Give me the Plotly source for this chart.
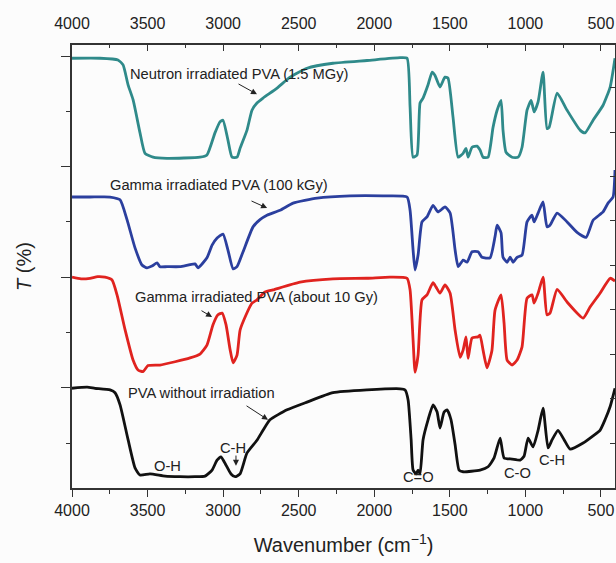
import plotly.graph_objects as go

# ---- data (wavenumber in cm^-1, offset transmittance in arbitrary units) ----
wn_black = [4000, 3900, 3848, 3748, 3715, 3682, 3629, 3583, 3550, 3484, 3384, 3285, 3186, 3120, 3073, 3040, 3014, 2981, 2948, 2921,
            2888, 2842, 2776, 2736, 2690, 2577, 2445, 2273, 2048, 1829, 1796, 1776, 1756, 1743, 1723, 1710, 1697, 1677, 1644, 1611,
            1584, 1565, 1538, 1518, 1492, 1465, 1439, 1412, 1300, 1247, 1207, 1167, 1141, 1088, 1035, 1009, 982, 949, 916, 883,
            850, 823, 784, 744, 704, 618, 552, 506, 473, 439, 407]
t_black = [19.9, 20.1, 19.9, 19.6, 19.1, 16.9, 10.6, 5.5, 4.2, 4.4, 4.0, 3.9, 3.9, 4.0, 5.1, 6.9, 7.5, 6.0, 4.4, 3.9,
           4.4, 8.2, 10.5, 12.3, 14.2, 16.0, 17.4, 19.1, 19.6, 19.8, 19.6, 17.8, 10.6, 5.1, 4.4, 5.1, 4.4, 10.6, 14.2, 16.9,
           15.6, 12.7, 15.6, 16.0, 14.2, 9.7, 5.1, 4.8, 5.1, 5.7, 7.3, 10.9, 7.3, 7.1, 6.9, 7.6, 10.9, 9.3, 12.3, 16.3,
           9.1, 10.6, 12.3, 10.6, 8.9, 10.0, 11.3, 12.3, 14.2, 16.6, 19.9]

wn_red = [4000, 3940, 3881, 3830, 3782, 3735, 3702, 3649, 3596, 3563, 3530, 3497, 3418, 3318, 3219, 3153, 3107, 3067, 3034, 3007,
          2981, 2954, 2934, 2908, 2888, 2848, 2809, 2776, 2723, 2670, 2491, 2273, 2048, 1896, 1783, 1763, 1743, 1730, 1710, 1684,
          1651, 1611, 1591, 1565, 1532, 1498, 1465, 1432, 1412, 1393, 1379, 1353, 1313, 1300, 1280, 1254, 1221, 1201, 1161, 1141,
          1121, 1088, 1055, 1022, 989, 956, 942, 916, 883, 857, 837, 790, 724, 618, 572, 506, 439, 407]
t_red = [40.0, 39.7, 39.8, 40.1, 40.0, 39.5, 36.8, 30.5, 25.0, 23.2, 22.9, 24.0, 24.1, 24.7, 25.4, 26.1, 27.7, 31.4, 33.2, 33.5,
         31.4, 26.9, 24.5, 25.9, 30.4, 33.2, 35.3, 35.9, 37.3, 37.7, 39.1, 39.7, 39.8, 40.0, 39.8, 37.7, 28.6, 22.8, 25.9, 35.9,
         36.8, 39.0, 38.2, 37.1, 38.6, 37.1, 30.4, 25.5, 26.8, 29.2, 25.3, 29.0, 29.2, 29.5, 26.8, 23.6, 26.8, 34.0, 36.8, 31.7,
         25.0, 24.1, 25.0, 27.4, 36.2, 36.8, 35.3, 37.1, 40.0, 33.2, 33.5, 37.8, 35.5, 32.6, 34.6, 37.1, 39.8, 39.3]

wn_blue = [4000, 3881, 3748, 3682, 3636, 3583, 3537, 3504, 3471, 3437, 3418, 3371, 3285, 3186, 3166, 3107, 3073, 3040, 3001, 2968,
           2934, 2908, 2868, 2802, 2756, 2710, 2623, 2537, 2378, 2160, 1942, 1783, 1763, 1743, 1730, 1710, 1684, 1651, 1611, 1578,
           1532, 1498, 1465, 1445, 1412, 1386, 1353, 1313, 1287, 1234, 1201, 1187, 1161, 1148, 1121, 1101, 1081, 1055, 1022, 989,
           956, 942, 916, 883, 857, 837, 790, 724, 658, 598, 552, 486, 453, 420, 407]
t_blue = [54.5, 54.5, 54.5, 54.0, 50.4, 45.3, 42.2, 41.7, 42.0, 42.6, 41.9, 41.9, 41.9, 42.4, 41.7, 43.5, 45.8, 47.1, 47.8, 44.9,
          41.5, 41.9, 44.6, 49.1, 50.4, 51.2, 52.1, 53.4, 54.3, 54.7, 54.7, 54.5, 52.1, 44.9, 41.3, 44.0, 50.0, 50.9, 53.0, 51.8,
          52.7, 51.6, 44.9, 41.9, 43.1, 42.7, 44.6, 44.6, 43.6, 43.5, 47.3, 49.4, 48.0, 43.6, 42.7, 43.6, 42.7, 43.6, 44.0, 50.0,
          51.2, 50.0, 51.6, 53.6, 49.1, 49.4, 51.6, 50.0, 48.1, 47.2, 50.3, 51.8, 53.4, 54.5, 59.4]

wn_teal = [4000, 3815, 3696, 3662, 3629, 3596, 3550, 3517, 3464, 3371, 3153, 3107, 3054, 3021, 3001, 2968, 2941, 2908, 2888, 2842,
           2809, 2776, 2736, 2643, 2557, 2445, 2273, 2048, 1829, 1783, 1763, 1743, 1717, 1697, 1677, 1644, 1617, 1598, 1565, 1532,
           1512, 1479, 1445, 1412, 1393, 1379, 1353, 1320, 1300, 1280, 1247, 1214, 1187, 1161, 1148, 1128, 1088, 1048, 1022, 989,
           962, 942, 916, 883, 857, 843, 790, 724, 638, 605, 552, 486, 439, 407]
t_teal = [79.6, 79.6, 79.3, 78.4, 74.8, 72.1, 66.1, 62.4, 61.7, 61.5, 61.7, 62.1, 66.1, 68.1, 68.4, 64.8, 61.7, 61.7, 63.3, 66.6,
          70.2, 71.5, 72.4, 74.2, 76.2, 77.8, 78.7, 79.2, 79.7, 79.6, 70.8, 61.7, 62.1, 71.5, 72.4, 74.8, 77.1, 76.5, 74.4, 76.2,
          76.0, 69.0, 61.7, 62.4, 63.3, 61.7, 63.5, 63.7, 63.0, 61.7, 61.7, 67.1, 70.2, 72.0, 66.6, 62.6, 61.7, 61.7, 63.5, 70.2,
          72.0, 69.9, 71.7, 77.1, 66.9, 67.1, 73.3, 70.2, 66.6, 66.1, 68.4, 71.1, 74.4, 79.6]

series_names = ["Neutron irradiated PVA (1.5 MGy)", "Gamma irradiated PVA (100 kGy)",
                "Gamma irradiated PVA (about 10 Gy)", "PVA without irradiation"]
x_tick_vals = [4000, 3500, 3000, 2500, 2000, 1500, 1000, 500]

X_RANGE = [4000, 407]
Y_RANGE = [1.86, 82.0]

colors = ["#2f8a8a", "#2b3f9e", "#e0231f", "#111111"]
data = [(wn_teal, t_teal), (wn_blue, t_blue), (wn_red, t_red), (wn_black, t_black)]

fig = go.Figure()
for (xs, ys), name, c in zip(data, series_names, colors):
    n = min(len(xs), len(ys))
    fig.add_trace(go.Scatter(x=xs[:n], y=ys[:n], mode="lines", name=name,
                             line=dict(color=c, width=2.8, shape="spline", smoothing=0.5),
                             showlegend=False, hoverinfo="skip"))

font_main = "Liberation Sans, Arial, sans-serif"
axis_col = "#333333"

fig.update_layout(
    width=616, height=563,
    margin=dict(l=72, r=1, t=45, b=75),
    paper_bgcolor="#fcfcfc", plot_bgcolor="#fcfcfc",
    font=dict(family=font_main, color="#222222"),
    xaxis=dict(range=X_RANGE, tickvals=x_tick_vals, ticks="outside", ticklen=7, tickwidth=1.3,
               tickcolor=axis_col, showline=True, linecolor=axis_col, linewidth=1.5,
               showgrid=False, zeroline=False, tickfont=dict(size=16),
               minor=dict(dtick=250, tick0=0, ticks="outside", ticklen=4, tickcolor=axis_col, tickwidth=1.2, showgrid=False),
               title=dict(text="Wavenumber (cm<sup>−1</sup>)", font=dict(size=20), standoff=20)),
    xaxis2=dict(range=X_RANGE, overlaying="x", side="top", anchor="y",
                tickvals=x_tick_vals, ticks="inside", ticklen=6, tickwidth=1.3, tickcolor=axis_col,
                showline=True, linecolor=axis_col, linewidth=1.5, showgrid=False, zeroline=False,
                tickfont=dict(size=16), ticklabelstandoff=8,
                minor=dict(dtick=250, tick0=0, ticks="inside", ticklen=3, tickcolor=axis_col, tickwidth=1.2, showgrid=False)),
    yaxis=dict(range=Y_RANGE, dtick=20, tick0=0, ticks="outside", ticklen=9, tickwidth=1.3, tickcolor=axis_col,
               showticklabels=False, showline=True, linecolor=axis_col, linewidth=1.5,
               showgrid=False, zeroline=False,
               minor=dict(dtick=10, tick0=0, ticks="outside", ticklen=4, tickcolor=axis_col, tickwidth=1.2, showgrid=False),
               title=dict(text="<i>T</i> (%)", font=dict(size=20), standoff=24)),
    yaxis2=dict(range=[-1.01, 8.96], overlaying="y", side="right", anchor="x",
                dtick=1, tick0=0, ticks="inside", ticklen=5, tickwidth=1.2, tickcolor=axis_col,
                showticklabels=False, showline=True, linecolor=axis_col, linewidth=1.5,
                showgrid=False, zeroline=False),
)
# invisible trace so top/right axes are rendered
fig.add_trace(go.Scatter(x=[None], y=[None], xaxis="x2", yaxis="y2", showlegend=False, hoverinfo="skip"))

lab_font = dict(family=font_main, size=14.7, color="#222222")
# curve labels with arrows
labels = [
    (2891, 76.7, series_names[0], 2908, 75.1, 2776, 73.1),
    (3027, 56.7, series_names[1], 2822, 53.9, 2709, 52.5),
    (2782, 36.4, series_names[2], 3153, 34.1, 3073, 32.8),
    (3146, 19.0, series_names[3], 2855, 16.9, 2703, 14.2),
]
for tx, ty, txt, ax_, ay_, hx, hy in labels:
    fig.add_annotation(x=tx, y=ty, text=txt, showarrow=False, font=lab_font, xref="x", yref="y")
    fig.add_annotation(x=hx, y=hy, ax=ax_, ay=ay_, axref="x", ayref="y", xref="x", yref="y",
                       text="", showarrow=True, arrowhead=2, arrowsize=1.2, arrowwidth=1, arrowcolor="#222222")

# band labels
bands = [(3365, 5.8, "O-H"), (2934, 9.1, "C-H"), (1704, 3.85, "C=O"), (1055, 4.6, "C-O"), (823, 6.9, "C-H")]
for bx, by, bt in bands:
    fig.add_annotation(x=bx, y=by, text=bt, showarrow=False, font=lab_font, xref="x", yref="y")
fig.add_annotation(x=2915, y=5.9, ax=2915, ay=8.0, axref="x", ayref="y", xref="x", yref="y",
                   text="", showarrow=True, arrowhead=2, arrowsize=1.2, arrowwidth=1, arrowcolor="#222222")

# remove the default 8px page margin so the 616x563 figure fills the window exactly
fig.write_html("out.html", config={"displayModeBar": False},
               post_script="document.body.style.margin='0px';document.body.style.overflow='hidden';")
